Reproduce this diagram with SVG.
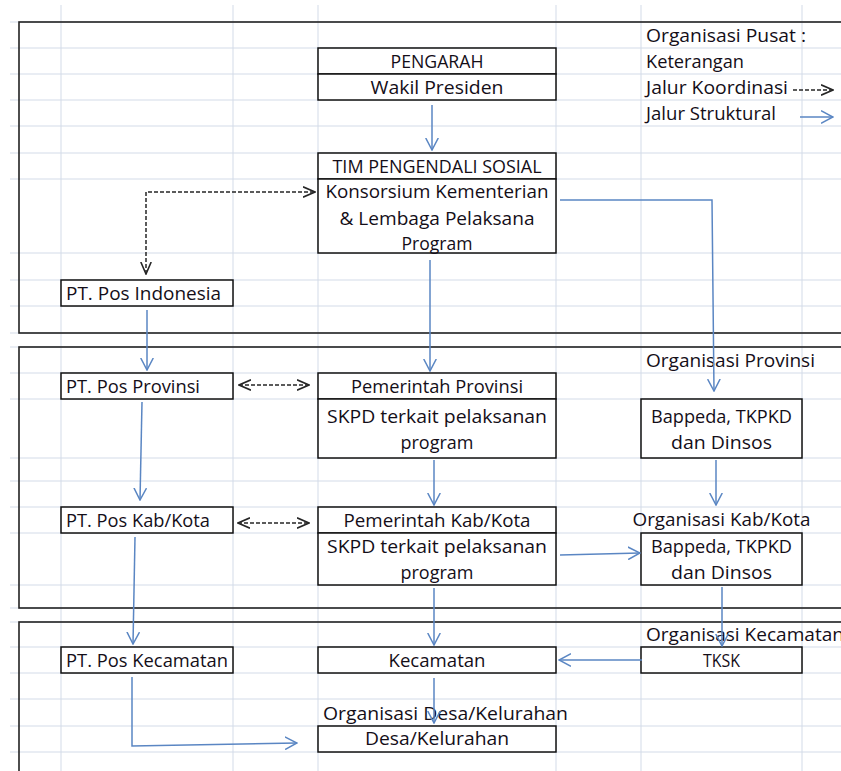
<svg xmlns="http://www.w3.org/2000/svg" width="841" height="771" viewBox="0 0 841 771">
<defs>
<style>
.grid line{stroke:#d3dbe8;stroke-width:1}
.frame{fill:none;stroke:#222;stroke-width:1.6}
.cell{fill:#fff;stroke:#111;stroke-width:1.5}
text{font-family:"Open Sans","Noto Sans","Liberation Sans",sans-serif;font-size:18.5px;fill:#140e18}
.c{text-anchor:middle}
.blue{fill:none;stroke:#5a86c3;stroke-width:1.5;marker-end:url(#ab)}
.dash{fill:none;stroke:#262626;stroke-width:1.5;stroke-dasharray:4 2;marker-end:url(#ak);marker-start:url(#ak)}
.dash1{fill:none;stroke:#262626;stroke-width:1.5;stroke-dasharray:4 2;marker-end:url(#ak)}
</style>
<marker id="ab" viewBox="0 0 13 14" refX="12" refY="7" markerWidth="13" markerHeight="14" markerUnits="userSpaceOnUse" orient="auto-start-reverse"><path d="M0,0.7 L12,7 L0,13.3" fill="none" stroke="#5a86c3" stroke-width="1.5"/></marker>
<marker id="ak" viewBox="0 0 13 12" refX="12" refY="6" markerWidth="13" markerHeight="12" markerUnits="userSpaceOnUse" orient="auto-start-reverse"><path d="M0,0.8 L12,6 L0,11.2" fill="none" stroke="#262626" stroke-width="1.6"/></marker>
</defs>
<rect width="841" height="771" fill="#fff"/>
<g class="grid">
<line x1="10" y1="22" x2="841" y2="22"/><line x1="10" y1="48" x2="841" y2="48"/><line x1="10" y1="74" x2="841" y2="74"/><line x1="10" y1="100" x2="841" y2="100"/><line x1="10" y1="126" x2="841" y2="126"/><line x1="10" y1="153" x2="841" y2="153"/><line x1="10" y1="179" x2="841" y2="179"/><line x1="10" y1="253" x2="841" y2="253"/><line x1="10" y1="280" x2="841" y2="280"/><line x1="10" y1="306" x2="841" y2="306"/><line x1="10" y1="333" x2="841" y2="333"/><line x1="10" y1="347" x2="841" y2="347"/><line x1="10" y1="373" x2="841" y2="373"/><line x1="10" y1="399" x2="841" y2="399"/><line x1="10" y1="458" x2="841" y2="458"/><line x1="10" y1="481" x2="841" y2="481"/><line x1="10" y1="507" x2="841" y2="507"/><line x1="10" y1="533" x2="841" y2="533"/><line x1="10" y1="585" x2="841" y2="585"/><line x1="10" y1="608" x2="841" y2="608"/><line x1="10" y1="622" x2="841" y2="622"/><line x1="10" y1="647" x2="841" y2="647"/><line x1="10" y1="673" x2="841" y2="673"/><line x1="10" y1="699" x2="841" y2="699"/><line x1="10" y1="726" x2="841" y2="726"/><line x1="10" y1="752" x2="841" y2="752"/>
<line x1="61" y1="5" x2="61" y2="771"/><line x1="233" y1="5" x2="233" y2="771"/><line x1="318" y1="5" x2="318" y2="771"/><line x1="556" y1="5" x2="556" y2="771"/><line x1="641" y1="5" x2="641" y2="771"/><line x1="802" y1="5" x2="802" y2="771"/>
</g>
<g id="frames">
<rect class="frame" x="19" y="22" width="900" height="311"/>
<rect class="frame" x="19" y="347" width="900" height="261"/>
<rect class="frame" x="19" y="622" width="900" height="200"/>
</g>
<g id="labels">
<text x="646" y="42" textLength="160" lengthAdjust="spacingAndGlyphs">Organisasi Pusat :</text>
<text x="646" y="68" textLength="98" lengthAdjust="spacingAndGlyphs">Keterangan</text>
<text x="646" y="94" textLength="142" lengthAdjust="spacingAndGlyphs">Jalur Koordinasi</text>
<text x="646" y="120" textLength="130" lengthAdjust="spacingAndGlyphs">Jalur Struktural</text>
<text x="646" y="367" textLength="169" lengthAdjust="spacingAndGlyphs">Organisasi Provinsi</text>
<text class="c" x="721.5" y="526" textLength="178" lengthAdjust="spacingAndGlyphs">Organisasi Kab/Kota</text>
<text x="646" y="641" textLength="198" lengthAdjust="spacingAndGlyphs">Organisasi Kecamatan</text>
<text x="323" y="720" textLength="245" lengthAdjust="spacingAndGlyphs">Organisasi Desa/Kelurahan</text>
</g>
<g id="pengarah"><rect class="cell" x="318" y="48" width="238" height="26"/><text class="c" x="437" y="68" textLength="93" lengthAdjust="spacingAndGlyphs">PENGARAH</text></g>
<g id="wakil-presiden"><rect class="cell" x="318" y="74" width="238" height="26"/><text class="c" x="437" y="94" textLength="133" lengthAdjust="spacingAndGlyphs">Wakil Presiden</text></g>
<g id="tim-pengendali"><rect class="cell" x="318" y="153" width="238" height="26"/><text class="c" x="437" y="173" textLength="209" lengthAdjust="spacingAndGlyphs">TIM PENGENDALI SOSIAL</text></g>
<g id="konsorsium"><rect class="cell" x="318" y="179" width="238" height="74"/><text class="c" x="437" y="198" textLength="223" lengthAdjust="spacingAndGlyphs">Konsorsium Kementerian</text><text class="c" x="437" y="225" textLength="195" lengthAdjust="spacingAndGlyphs">&amp; Lembaga Pelaksana</text><text class="c" x="437" y="250" textLength="71" lengthAdjust="spacingAndGlyphs">Program</text></g>
<g id="pos-indonesia"><rect class="cell" x="61" y="280" width="172" height="26"/><text x="66" y="300" textLength="155" lengthAdjust="spacingAndGlyphs">PT. Pos Indonesia</text></g>
<g id="pos-provinsi"><rect class="cell" x="61" y="373" width="172" height="26"/><text x="66" y="393" textLength="134" lengthAdjust="spacingAndGlyphs">PT. Pos Provinsi</text></g>
<g id="pemerintah-provinsi"><rect class="cell" x="318" y="373" width="238" height="26"/><text class="c" x="437" y="393" textLength="172" lengthAdjust="spacingAndGlyphs">Pemerintah Provinsi</text></g>
<g id="skpd-provinsi"><rect class="cell" x="318" y="399" width="238" height="59"/><text class="c" x="437" y="423" textLength="220" lengthAdjust="spacingAndGlyphs">SKPD terkait pelaksanan</text><text class="c" x="437" y="449" textLength="73" lengthAdjust="spacingAndGlyphs">program</text></g>
<g id="bappeda-provinsi"><rect class="cell" x="641" y="399" width="161" height="59"/><text class="c" x="721.5" y="423" textLength="141" lengthAdjust="spacingAndGlyphs">Bappeda, TKPKD</text><text class="c" x="721.5" y="449" textLength="101" lengthAdjust="spacingAndGlyphs">dan Dinsos</text></g>
<g id="pos-kabkota"><rect class="cell" x="61" y="507" width="172" height="26"/><text x="66" y="527" textLength="144" lengthAdjust="spacingAndGlyphs">PT. Pos Kab/Kota</text></g>
<g id="pemerintah-kabkota"><rect class="cell" x="318" y="507" width="238" height="26"/><text class="c" x="437" y="527" textLength="187" lengthAdjust="spacingAndGlyphs">Pemerintah Kab/Kota</text></g>
<g id="skpd-kabkota"><rect class="cell" x="318" y="533" width="238" height="52"/><text class="c" x="437" y="553" textLength="220" lengthAdjust="spacingAndGlyphs">SKPD terkait pelaksanan</text><text class="c" x="437" y="579" textLength="73" lengthAdjust="spacingAndGlyphs">program</text></g>
<g id="bappeda-kabkota"><rect class="cell" x="641" y="533" width="161" height="52"/><text class="c" x="721.5" y="553" textLength="141" lengthAdjust="spacingAndGlyphs">Bappeda, TKPKD</text><text class="c" x="721.5" y="579" textLength="101" lengthAdjust="spacingAndGlyphs">dan Dinsos</text></g>
<g id="pos-kecamatan"><rect class="cell" x="61" y="647" width="172" height="26"/><text x="66" y="667" textLength="162" lengthAdjust="spacingAndGlyphs">PT. Pos Kecamatan</text></g>
<g id="kecamatan"><rect class="cell" x="318" y="647" width="238" height="26"/><text class="c" x="437" y="667" textLength="97" lengthAdjust="spacingAndGlyphs">Kecamatan</text></g>
<g id="tksk"><rect class="cell" x="641" y="647" width="161" height="26"/><text class="c" x="721.5" y="667" textLength="37" lengthAdjust="spacingAndGlyphs">TKSK</text></g>
<g id="desa"><rect class="cell" x="318" y="726" width="238" height="26"/><text class="c" x="437" y="745" textLength="144" lengthAdjust="spacingAndGlyphs">Desa/Kelurahan</text></g>
<g id="connectors">
<path class="blue" d="M432,105 V150"/>
<path class="dash" d="M146,274 V192 H315"/>
<path class="blue" d="M560,200 H712 L714,391"/>
<path class="blue" d="M430,260 V371"/>
<path class="blue" d="M147,310 V370"/>
<path class="blue" d="M142,402 L140,500"/>
<path class="dash" d="M239,385 H309"/>
<path class="dash" d="M238,523 H309"/>
<path class="blue" d="M434,460 V505"/>
<path class="blue" d="M716,460 V505"/>
<path class="blue" d="M560,555 L640,553"/>
<path class="blue" d="M135,537 L133,644"/>
<path class="blue" d="M434,588 V645"/>
<path class="blue" d="M722,587 V646"/>
<path class="blue" d="M642,660 H559"/>
<path class="blue" d="M434,678 V723"/>
<path class="blue" d="M132,677 V746 L297,743"/>
<path class="dash1" d="M793,90 H833"/>
<path class="blue" d="M800,117 H833"/>
</g>
</svg>
